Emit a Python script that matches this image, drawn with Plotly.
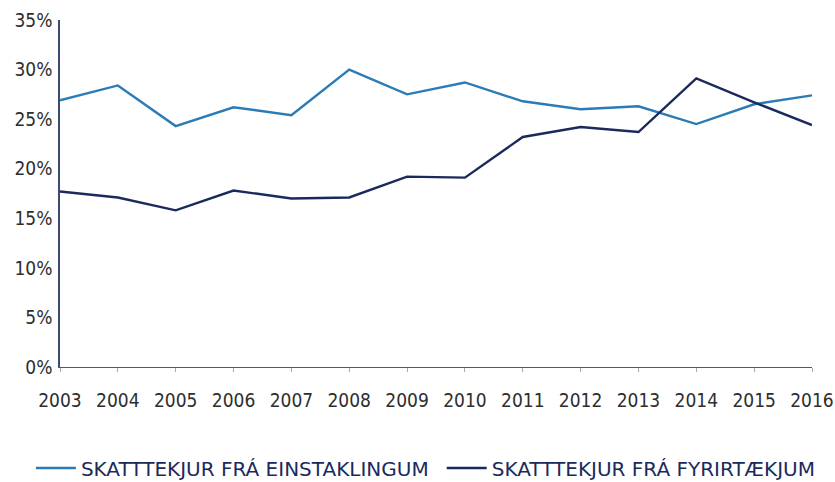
import plotly.graph_objects as go

years = list(range(2003, 2017))
einstaklingar = [26.9, 28.4, 24.3, 26.2, 25.4, 30.0, 27.5, 28.7, 26.8, 26.0, 26.3, 24.5, 26.5, 27.4]
fyrirtaeki = [17.7, 17.1, 15.8, 17.8, 17.0, 17.1, 19.2, 19.1, 23.2, 24.2, 23.7, 29.1, 26.7, 24.4]
y_ticks = [0, 5, 10, 15, 20, 25, 30, 35]
y_labels = [f"{v}%" for v in y_ticks]

FONT = "DejaVu Sans Condensed, DejaVu Sans, sans-serif"
LFONT = "DejaVu Sans, sans-serif"

fig = go.Figure()
fig.add_trace(go.Scatter(x=years, y=einstaklingar, mode="lines",
                         name="SKATTTEKJUR FRÁ EINSTAKLINGUM", legend="legend",
                         line=dict(color="#2a7bb6", width=2.4)))
fig.add_trace(go.Scatter(x=years, y=fyrirtaeki, mode="lines",
                         name="SKATTTEKJUR FRÁ FYRIRTÆKJUM", legend="legend2",
                         line=dict(color="#1b2a5c", width=2.4)))

legend_common = dict(orientation="h", xref="container", xanchor="left",
                     y=0.029, yref="container", yanchor="middle",
                     font=dict(family=LFONT, size=20, color="#1b2a5c"),
                     itemwidth=40, borderwidth=0, bgcolor="rgba(0,0,0,0)")

fig.update_layout(
    width=835, height=482,
    margin=dict(l=60, r=23, t=20, b=115, autoexpand=False),
    paper_bgcolor="white", plot_bgcolor="white",
    font=dict(family=FONT, size=19, color="#2e2e2e"),
    showlegend=True,
    legend=dict(x=0.037, **legend_common),
    legend2=dict(x=0.529, **legend_common),
    xaxis=dict(range=[2003, 2016], tickmode="array", tickvals=years,
               ticktext=[str(y) for y in years], showgrid=False, zeroline=False,
               showline=True, linecolor="#4a5a80", linewidth=1.2,
               ticks="outside", ticklen=4, tickcolor="#aaaaaa", tickwidth=1,
               ticklabelstandoff=12, automargin=False,
               tickfont=dict(family=FONT, size=19, color="#2e2e2e")),
    yaxis=dict(range=[0, 35], tickmode="array", tickvals=y_ticks, ticktext=y_labels,
               showgrid=False, zeroline=False, showline=True,
               linecolor="#3a4a70", linewidth=1.5, ticks="",
               ticklabelstandoff=2, automargin=False,
               tickfont=dict(family=FONT, size=19, color="#2e2e2e")),
)

fig.write_html("out.html", config={"displayModeBar": False},
               post_script="document.body.style.margin='0';")
